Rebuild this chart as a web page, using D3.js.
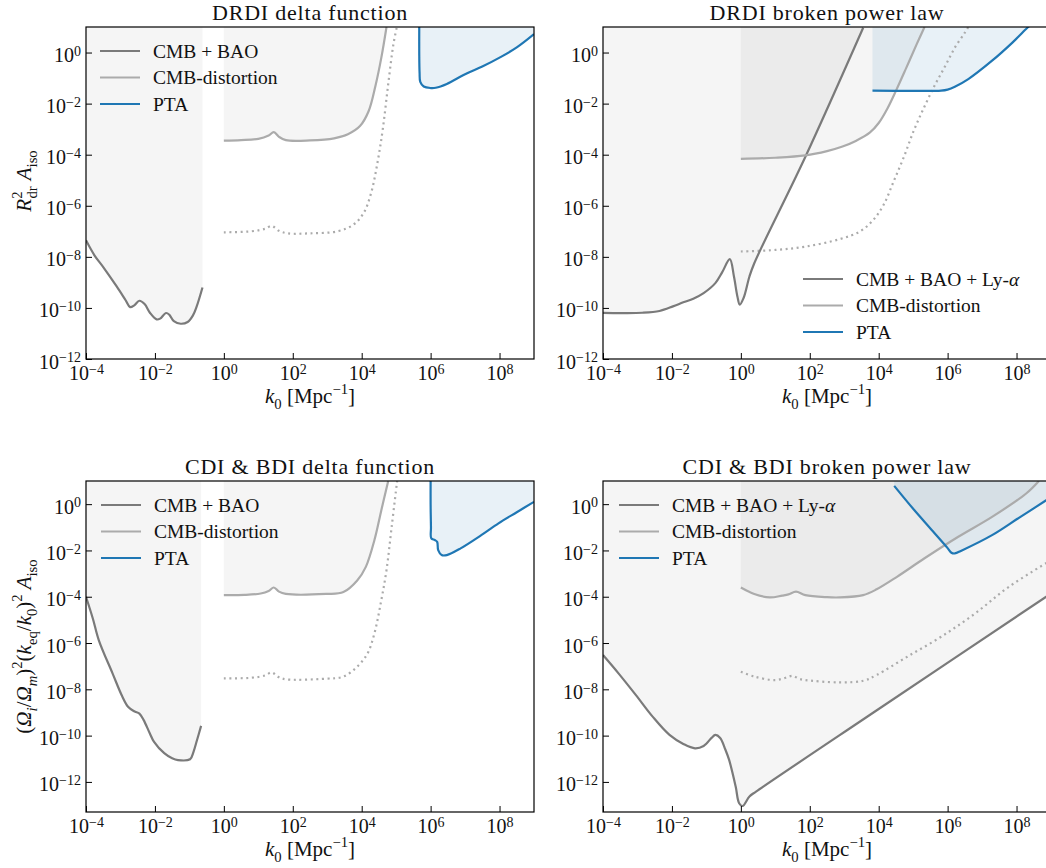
<!DOCTYPE html>
<html>
<head>
<meta charset="utf-8">
<script src="https://cdn.jsdelivr.net/npm/d3@7"></script>
<style>
  body { margin: 0; background: #fff; }
</style>
</head>
<body>
<div id="chart"></div>
<script>
// Set up the SVG area
var svgWidth = 1046;
var svgHeight = 868;
var serif = "'Liberation Serif', 'Times New Roman', Times, serif";

// Curves, as [log10 k0, log10 amplitude]
// -- DRDI delta function
var drdiDeltaBao = [[-4,-7.35],[-3.75,-7.95],[-3.5,-8.4],[-3.11,-9.16],[-2.85,-9.7],[-2.72,-9.97],[-2.6,-9.9],[-2.45,-9.72],[-2.3,-9.85],[-2.14,-10.2],[-1.95,-10.45],[-1.85,-10.42],[-1.68,-10.2],[-1.58,-10.27],[-1.45,-10.52],[-1.25,-10.62],[-1.05,-10.55],[-0.9,-10.3],[-0.79,-9.95],[-0.62,-9.2]];
var drdiDeltaDist = [[0,-3.45],[0.5,-3.43],[1.0,-3.38],[1.3,-3.25],[1.45,-3.12],[1.6,-3.3],[1.8,-3.43],[2.5,-3.44],[3.2,-3.36],[3.6,-3.2],[3.95,-2.88],[4.2,-2.3],[4.4,-1.3],[4.57,-0.2],[4.72,1.0]];
var drdiDeltaDot = [[0,-7.04],[0.8,-7.0],[1.2,-6.9],[1.39,-6.79],[1.6,-6.98],[1.85,-7.08],[2.5,-7.08],[3.3,-7.0],[3.75,-6.75],[4.05,-6.3],[4.27,-5.52],[4.47,-4.22],[4.62,-2.92],[4.77,-1.23],[4.92,0.32],[5.02,1.0]];
var drdiDeltaPta = [[5.67,1.0],[5.67,0],[5.68,-0.8],[5.7,-1.15],[5.8,-1.33],[6.0,-1.39],[6.15,-1.38],[6.47,-1.23],[7.0,-0.85],[7.5,-0.55],[8.0,-0.2],[8.5,0.2],[9.0,0.72]];

// -- DRDI broken power law
var drdiBplBao = [[-4,-10.19],[-3.5,-10.2],[-2.86,-10.19],[-2.36,-10.12],[-1.97,-9.94],[-1.67,-9.78],[-1.38,-9.64],[-1.08,-9.42],[-0.74,-9.03],[-0.54,-8.6],[-0.32,-8.09],[-0.2,-8.77],[-0.1,-9.55],[-0.03,-9.87],[0.08,-9.61],[0.25,-8.77],[0.39,-8.25],[1.87,-4.09],[3.55,0.97]];
var drdiBplDist = [[0,-4.16],[1.0,-4.12],[1.87,-4.03],[2.5,-3.86],[2.95,-3.68],[3.35,-3.45],[3.74,-3.14],[4.0,-2.76],[4.25,-2.2],[4.5,-1.5],[4.8,-0.6],[5.1,0.32],[5.33,1.0]];
var drdiBplDot = [[0,-7.79],[1.0,-7.73],[1.87,-7.6],[2.86,-7.31],[3.45,-7.01],[3.84,-6.56],[4.14,-5.97],[4.43,-5.06],[4.73,-4.09],[5.02,-3.05],[5.32,-2.14],[5.62,-1.3],[5.91,-0.58],[6.21,0.19],[6.5,0.78],[6.6,1.0]];
var drdiBplPta = [[3.82,-1.49],[5.0,-1.5],[5.81,-1.49],[6.0,-1.45],[6.21,-1.34],[6.6,-1.04],[7.29,-0.32],[7.88,0.39],[8.3,0.95],[8.36,1.02]];

// -- CDI & BDI delta function
var cdiDeltaBao = [[-4,-4.0],[-3.8,-4.95],[-3.63,-5.87],[-3.23,-7.31],[-2.95,-8.3],[-2.78,-8.75],[-2.6,-8.95],[-2.45,-9.05],[-2.33,-9.32],[-2.15,-9.9],[-2.03,-10.26],[-1.73,-10.76],[-1.5,-10.98],[-1.33,-11.06],[-0.98,-11.02],[-0.88,-10.7],[-0.78,-10.2],[-0.66,-9.58]];
var cdiDeltaDist = [[0,-3.93],[0.6,-3.92],[1.07,-3.86],[1.3,-3.75],[1.45,-3.6],[1.6,-3.78],[1.8,-3.88],[2.97,-3.88],[3.47,-3.8],[3.87,-3.3],[4.12,-2.71],[4.37,-1.55],[4.57,-0.26],[4.77,1.0]];
var cdiDeltaDot = [[0,-7.53],[0.8,-7.5],[1.2,-7.4],[1.39,-7.27],[1.6,-7.48],[1.82,-7.57],[2.97,-7.54],[3.47,-7.45],[3.87,-7.02],[4.17,-6.45],[4.37,-5.58],[4.57,-4.14],[4.72,-2.85],[4.87,-0.98],[5.02,0.89],[5.03,1.0]];
var cdiDeltaPta = [[6.0,1.05],[6.0,0],[6.01,-1.0],[6.02,-1.48],[6.12,-1.55],[6.19,-1.63],[6.22,-1.99],[6.32,-2.2],[6.47,-2.2],[6.87,-1.91],[7.47,-1.34],[7.97,-0.83],[8.5,-0.35],[9.0,0.1]];

// -- CDI & BDI broken power law
var cdiBplBao = [[-4,-6.52],[-3.55,-7.31],[-3.05,-8.24],[-2.56,-9.18],[-2.07,-9.97],[-1.67,-10.36],[-1.33,-10.55],[-1.08,-10.45],[-0.85,-10.1],[-0.74,-9.97],[-0.6,-10.1],[-0.45,-10.6],[-0.34,-11.05],[-0.15,-12.2],[-0.05,-12.92],[0.05,-13.04],[0.25,-12.63],[0.44,-12.42],[4.0,-8.85],[9.0,-3.86]];
var cdiBplDist = [[0,-3.6],[0.39,-3.88],[0.84,-4.03],[1.2,-3.95],[1.38,-3.9],[1.6,-3.78],[1.87,-3.93],[2.5,-4.02],[2.86,-4.03],[3.55,-3.93],[3.94,-3.68],[4.53,-3.14],[5.32,-2.35],[6.31,-1.41],[7.29,-0.55],[8.28,0.46],[8.65,1.0]];
var cdiBplDot = [[0,-7.24],[0.39,-7.45],[0.99,-7.6],[1.3,-7.5],[1.5,-7.42],[1.7,-7.55],[1.87,-7.6],[2.86,-7.7],[3.55,-7.63],[3.94,-7.38],[4.83,-6.59],[5.81,-5.73],[6.8,-4.72],[7.78,-3.57],[9.0,-2.42]];
var cdiBplPta = [[4.45,0.79],[5.0,-0.2],[5.5,-1.05],[6.0,-1.9],[6.11,-2.1],[6.21,-2.13],[6.4,-2.01],[7.29,-1.34],[8.08,-0.58],[9.0,0.3]];

var xTicks = [1e-4, 1e-2, 1e0, 1e2, 1e4, 1e6, 1e8];
var yTicks = [1e0, 1e-2, 1e-4, 1e-6, 1e-8, 1e-10, 1e-12];
var titles = ["DRDI delta function", "DRDI broken power law", "CDI & BDI delta function", "CDI & BDI broken power law"];
var legendDelta = ["CMB + BAO", "CMB-distortion", "PTA"];
var legendBpl = ["CMB + BAO + Ly-", "CMB-distortion", "PTA"];

var colBao = "#7a7a7a", colDist = "#ababab", colPta = "#1f77b4";

// exponents -> values
function toVal(a) { return a.map(d => [Math.pow(10, d[0]), Math.pow(10, d[1])]); }

var panels = [
  { title: titles[0], x0: 86, y0: 27, w: 448, h: 332, yMin: 1e-12,
    bao: drdiDeltaBao, dist: drdiDeltaDist, dot: drdiDeltaDot, pta: drdiDeltaPta,
    legend: legendDelta, lx: 14, ly: 24, ylab: "drdi" },
  { title: titles[1], x0: 603, y0: 27, w: 448, h: 332, yMin: 1e-12,
    bao: drdiBplBao, dist: drdiBplDist, dot: drdiBplDot, pta: drdiBplPta,
    legend: legendBpl, lx: 200, ly: 252 },
  { title: titles[2], x0: 86, y0: 481, w: 448, h: 331, yMin: Math.pow(10, -13.3),
    bao: cdiDeltaBao, dist: cdiDeltaDist, dot: cdiDeltaDot, pta: cdiDeltaPta,
    legend: legendDelta, lx: 15, ly: 24, ylab: "cdi" },
  { title: titles[3], x0: 603, y0: 481, w: 448, h: 331, yMin: Math.pow(10, -13.3),
    bao: cdiBplBao, dist: cdiBplDist, dot: cdiBplDot, pta: cdiBplPta,
    legend: legendBpl, lx: 16, ly: 24 }
];

var svg = d3.select("#chart")
  .append("svg")
  .attr("width", svgWidth)
  .attr("height", svgHeight)
  .attr("font-family", serif)
  .style("display", "block");

// little helper for math-ish labels: parts = [text, level(-1 sub, 0, 1 sup), italic, dx]
function mathText(t, parts, size) {
  var cur = 0;
  parts.forEach(p => {
    var level = p[1] || 0;
    var target = level > 0 ? -0.42 * size : level < 0 ? 0.28 * size : 0;
    var ts = t.append("tspan").text(p[0])
      .attr("dy", target - cur)
      .attr("font-size", level ? size * 0.7 : size);
    if (p[2]) ts.attr("font-style", "italic");
    if (p[3]) ts.attr("dx", p[3]);
    cur = target;
  });
}

function supLabel(d) {
  var e = Math.round(Math.log10(d));
  var t = d3.select(this).text(null);
  t.append("tspan").text("10");
  t.append("tspan").attr("dy", "-0.45em").attr("font-size", 14).text(e < 0 ? "\u2212" + (-e) : e);
}

panels.forEach((p, i) => {
  var x = d3.scaleLog().domain([1e-4, 1e9]).range([0, p.w]);
  var y = d3.scaleLog().domain([p.yMin, 10]).range([p.h, 0]);

  var g = svg.append("g").attr("transform", `translate(${p.x0}, ${p.y0})`);

  g.append("clipPath").attr("id", "clip" + i)
    .append("rect").attr("width", p.w).attr("height", p.h);

  var plot = g.append("g").attr("clip-path", `url(#clip${i})`);

  var curve = d3.curveCatmullRom.alpha(0.5);
  var line = d3.line().x(d => x(d[0])).y(d => y(d[1])).curve(curve);
  var area = d3.area().x(d => x(d[0])).y0(y(10) - 5).y1(d => y(d[1])).curve(curve);

  // shaded exclusion regions
  plot.append("path").attr("d", area(toVal(p.bao))).attr("fill", "#808080").attr("fill-opacity", 0.08);
  plot.append("path").attr("d", area(toVal(p.dist))).attr("fill", "#808080").attr("fill-opacity", 0.08);
  plot.append("path").attr("d", area(toVal(p.pta))).attr("fill", colPta).attr("fill-opacity", 0.1);

  // lines
  plot.append("path").attr("d", line(toVal(p.dot))).attr("fill", "none")
    .attr("stroke", colDist).attr("stroke-width", 2.2)
    .attr("stroke-dasharray", "2,3.6");
  plot.append("path").attr("d", line(toVal(p.bao))).attr("fill", "none")
    .attr("stroke", colBao).attr("stroke-width", 2.2);
  plot.append("path").attr("d", line(toVal(p.dist))).attr("fill", "none")
    .attr("stroke", colDist).attr("stroke-width", 2.2);
  plot.append("path").attr("d", line(toVal(p.pta))).attr("fill", "none")
    .attr("stroke", colPta).attr("stroke-width", 2.2);

  // axes, ticks pointing inward
  var gx = g.append("g").attr("transform", `translate(0, ${p.h})`)
    .call(d3.axisBottom(x).tickValues(xTicks).tickSizeInner(-6).tickSizeOuter(0));
  gx.attr("font-family", serif);
  gx.select(".domain").remove();
  gx.selectAll(".tick line").attr("stroke", "#000").attr("stroke-width", 1);
  gx.selectAll(".tick text").each(supLabel)
    .attr("y", 21).attr("dy", null).attr("font-size", 20).attr("fill", "#111");

  var gy = g.append("g")
    .call(d3.axisLeft(y).tickValues(yTicks).tickSizeInner(-6).tickSizeOuter(0));
  gy.attr("font-family", serif);
  gy.select(".domain").remove();
  gy.selectAll(".tick line").attr("stroke", "#000").attr("stroke-width", 1);
  gy.selectAll(".tick text").each(supLabel)
    .attr("x", -5).attr("dy", "0.45em").attr("font-size", 20).attr("fill", "#111");

  // frame
  g.append("rect").attr("width", p.w).attr("height", p.h)
    .attr("fill", "none").attr("stroke", "#000").attr("stroke-width", 1.2);

  // title
  g.append("text").attr("x", p.w / 2).attr("y", -7)
    .attr("text-anchor", "middle").attr("font-size", 22)
    .attr("letter-spacing", 0.8).attr("fill", "#111").text(p.title);

  // x label
  var xl = g.append("text").attr("x", p.w / 2).attr("y", p.h + 44)
    .attr("text-anchor", "middle").attr("fill", "#111");
  mathText(xl, [["k", 0, 1], ["0", -1], [" [Mpc", 0], ["\u22121", 1], ["]", 0]], 21);

  // legend
  var lg = g.append("g").attr("transform", `translate(${p.lx}, ${p.ly})`);
  [colBao, colDist, colPta].forEach((c, j) => {
    lg.append("line").attr("x1", 0).attr("x2", 40).attr("y1", j * 26.5).attr("y2", j * 26.5)
      .attr("stroke", c).attr("stroke-width", 2.2);
    var t = lg.append("text").attr("x", 53).attr("y", j * 26.5 + 6.5)
      .attr("font-size", 19.5).attr("fill", "#111").text(p.legend[j]);
    if (p.legend[j].endsWith("Ly-")) t.append("tspan").attr("font-style", "italic").text("\u03b1");
  });

  // y label
  if (p.ylab) {
    var yl = svg.append("text")
      .attr("transform", `translate(31, ${p.y0 + p.h / 2 - (p.ylab === "drdi" ? 12 : 0)}) rotate(-90)`)
      .attr("text-anchor", "middle").attr("fill", "#111");
    if (p.ylab === "drdi") {
      mathText(yl, [["R", 0, 1], ["2", 1], ["dr", -1, 0, -7], ["A", 0, 1, 6], ["iso", -1]], 21);
    } else {
      mathText(yl, [["(", 0], ["\u03a9", 0, 1], ["i", -1, 1], ["/", 0], ["\u03a9", 0, 1], ["m", -1, 1], [")", 0],
        ["2", 1], ["(", 0], ["k", 0, 1], ["eq", -1], ["/", 0], ["k", 0, 1], ["0", -1], [")", 0], ["2", 1],
        ["A", 0, 1, 5], ["iso", -1]], 21);
    }
  }
});
</script>
</body>
</html>
